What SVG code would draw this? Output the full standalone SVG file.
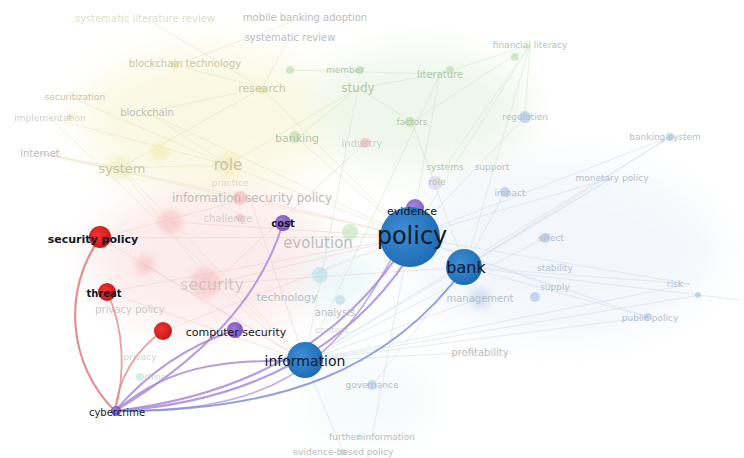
<svg xmlns="http://www.w3.org/2000/svg" width="744" height="458" viewBox="0 0 744 458">
<style>
.f{font-family:"DejaVu Sans","Open Sans",sans-serif;text-anchor:middle;dominant-baseline:central}
.faint{fill:#bcbcbc}
.fy{fill:#c6c6a6}
.fg{fill:#b2c6ad}
.fb{fill:#b3bfcc}
.lab{fill:#101828}
.bg{fill:none;stroke-width:0.8}
.e{fill:none;stroke-linecap:round}
</style>
<defs>
<filter id="blur" x="-50%" y="-50%" width="200%" height="200%"><feGaussianBlur stdDeviation="18"/></filter>
<filter id="sb" x="-50%" y="-50%" width="200%" height="200%"><feGaussianBlur stdDeviation="3"/></filter>
<radialGradient id="gBlue" cx="40%" cy="40%" r="60%"><stop offset="0" stop-color="#3d8fd6"/><stop offset="1" stop-color="#1f6db5"/></radialGradient>
<radialGradient id="gRed" cx="40%" cy="40%" r="60%"><stop offset="0" stop-color="#f03535"/><stop offset="1" stop-color="#c81818"/></radialGradient>
<radialGradient id="gPur" cx="40%" cy="40%" r="60%"><stop offset="0" stop-color="#a07ad8"/><stop offset="1" stop-color="#7d52c0"/></radialGradient>
</defs>
<rect width="744" height="458" fill="#ffffff"/>

<g id="washes" filter="url(#blur)" opacity="0.5">
<ellipse cx="210" cy="120" rx="130" ry="70" fill="#f7f3c8"/>
<ellipse cx="420" cy="110" rx="110" ry="60" fill="#dff0d8"/>
<ellipse cx="210" cy="260" rx="120" ry="70" fill="#fadada"/>
<ellipse cx="560" cy="250" rx="160" ry="90" fill="#e9f0f8"/>
<ellipse cx="340" cy="280" rx="40" ry="30" fill="#d8f0f2"/>
<ellipse cx="370" cy="400" rx="60" ry="40" fill="#eaf5f5"/>
</g>

<g id="connectors">
<g class="bg" stroke="#e6e0b8" opacity="0.6">
<path d="M120 168 L262 88 M120 168 L228 165 M120 168 L40 153 M147 112 L262 88 M147 112 L228 165 M50 118 L228 165 M175 65 L305 17 M175 65 L262 88 M290 37 L262 88 M228 165 L410 237 M228 165 L358 88 M122 168 L305 361 M147 112 L410 237 M262 88 L410 237 M40 153 L250 198 M70 97 L228 165 M120 168 L212 284 M145 18 L262 88 M40 153 L410 237 M50 118 L305 361"/>
</g>
<g class="bg" stroke="#cfe6c8" opacity="0.7">
<path d="M358 88 L440 74 M358 88 L412 122 M440 74 L530 45 M530 45 L412 122 M530 45 L525 117 M530 45 L410 237 M440 74 L410 237 M297 138 L410 237 M297 138 L358 88 M412 122 L465 267 M358 88 L305 361 M530 45 L445 167 M290 70 L440 74 M530 45 L465 267 M440 74 L305 361"/>
</g>
<g class="bg" stroke="#f3cccc" opacity="0.7">
<path d="M212 284 L410 237 M212 284 L305 361 M170 222 L410 237 M145 265 L305 361 M100 238 L410 237 M107 292 L305 361 M163 331 L410 237 M250 198 L410 237 M250 198 L305 361 M212 284 L465 267 M365 143 L212 284 M100 238 L250 198 M100 238 L305 361 M107 292 L410 237"/>
</g>
<g class="bg" stroke="#d4e0ee" opacity="0.8">
<path d="M410 237 L670 137 M410 237 L612 178 M410 237 L690 284 M410 237 L648 317 M465 267 L690 284 M465 267 L648 317 M465 267 L612 178 M305 361 L648 317 M305 361 L480 352 M305 361 L690 284 M525 117 L410 237 M505 192 L465 267 M545 238 L305 361 M555 287 L410 237 M480 298 L305 361 M372 437 L410 237 M343 452 L305 361 M372 385 L465 267 M670 137 L465 267 M700 295 L305 361 M612 178 L305 361 M740 300 L465 267 M670 137 L305 361"/>
</g>
<!-- strong links -->
<path class="e" d="M100 238 C62 290 68 365 115 411" stroke="#e07a7a" stroke-width="2.2" opacity="0.85"/>
<path class="e" d="M107 292 C125 330 125 375 115 411" stroke="#e08a8a" stroke-width="1.8" opacity="0.8"/>
<path class="e" d="M163 331 C135 350 118 380 115 411" stroke="#e08a8a" stroke-width="1.8" opacity="0.8"/>
<path class="e" d="M115 411 C200 360 260 300 283 223" stroke="#a98bd8" stroke-width="2" opacity="0.85"/>
<path class="e" d="M115 411 C150 370 190 345 235 330" stroke="#a98bd8" stroke-width="2" opacity="0.85"/>
<path class="e" d="M115 411 C160 375 200 358 305 361" stroke="#a98bd8" stroke-width="2" opacity="0.85"/>
<path class="e" d="M115 411 C250 395 340 340 398 255" stroke="#a98bd8" stroke-width="2.2" opacity="0.85"/>
<path class="e" d="M115 411 C255 402 350 345 408 258" stroke="#a98bd8" stroke-width="2.2" opacity="0.85"/>
<path class="e" d="M115 411 C250 410 340 390 415 207" stroke="#a98bd8" stroke-width="1.6" opacity="0.7"/>
<path class="e" d="M115 411 C280 412 390 370 465 267" stroke="#7f8fdc" stroke-width="2" opacity="0.85"/>
</g>

<g id="faint-nodes" opacity="0.5">
<circle cx="175" cy="65" r="4" fill="#e5e08a"/>
<circle cx="262" cy="90" r="4" fill="#e5e08a"/>
<circle cx="160" cy="152" r="9" fill="#eeeaa0" filter="url(#sb)"/>
<circle cx="120" cy="168" r="12" fill="#efeab0" filter="url(#sb)"/>
<circle cx="228" cy="165" r="12" fill="#efeab0" filter="url(#sb)"/>
<circle cx="70" cy="117" r="3" fill="#e5e08a"/>
<circle cx="290" cy="70" r="4" fill="#a8d89a"/>
<circle cx="360" cy="70" r="4" fill="#a8d89a"/>
<circle cx="450" cy="70" r="4" fill="#a8d89a"/>
<circle cx="515" cy="57" r="4" fill="#a8d89a"/>
<circle cx="410" cy="122" r="5" fill="#a8d89a"/>
<circle cx="295" cy="137" r="6" fill="#a8d89a"/>
<circle cx="350" cy="232" r="8" fill="#b6e0a8"/>
<circle cx="365" cy="143" r="5" fill="#f0a0a0"/>
<circle cx="525" cy="117" r="6" fill="#8fb6e0"/>
<circle cx="670" cy="137" r="4" fill="#8fb6e0"/>
<circle cx="505" cy="192" r="5" fill="#8fb6e0"/>
<circle cx="545" cy="238" r="5" fill="#8fb6e0"/>
<circle cx="535" cy="297" r="5" fill="#8fb6e0"/>
<circle cx="648" cy="317" r="4" fill="#8fb6e0"/>
<circle cx="698" cy="295" r="3" fill="#8fb6e0"/>
<circle cx="480" cy="298" r="11" fill="#bcd0e8" filter="url(#sb)"/>
<circle cx="170" cy="222" r="12" fill="#f4b8b8" filter="url(#sb)"/>
<circle cx="145" cy="265" r="10" fill="#f4b8b8" filter="url(#sb)"/>
<circle cx="205" cy="283" r="15" fill="#f4b8b8" filter="url(#sb)"/>
<circle cx="240" cy="198" r="7" fill="#f4a8a8"/>
<circle cx="240" cy="218" r="4" fill="#f4a8a8"/>
<circle cx="435" cy="183" r="7" fill="#d8c0f0"/>
<circle cx="320" cy="275" r="8" fill="#a8e0e8"/>
<circle cx="340" cy="300" r="5" fill="#a8d0e8"/>
<circle cx="372" cy="385" r="5" fill="#9ac0d8"/>
<circle cx="360" cy="437" r="3" fill="#9ad0c8"/>
<circle cx="343" cy="452" r="3" fill="#9ad0a8"/>
<circle cx="140" cy="377" r="4" fill="#a8e0d0"/>
</g>

<g id="faint-labels" class="f">
<text x="145" y="18" font-size="10" class="fy" opacity="0.6">systematic literature review</text>
<text x="305" y="17" font-size="10" class="faint">mobile banking adoption</text>
<text x="290" y="37" font-size="10" class="faint">systematic review</text>
<text x="185" y="63" font-size="10" class="fy">blockchain technology</text>
<text x="530" y="45" font-size="9" class="fg">financial literacy</text>
<text x="345" y="70" font-size="9" class="fg">member</text>
<text x="262" y="88" font-size="11" class="fy">research</text>
<text x="440" y="74" font-size="10" class="fg">literature</text>
<text x="358" y="88" font-size="12" class="fg">study</text>
<text x="75" y="97" font-size="9" class="fy">securitization</text>
<text x="147" y="112" font-size="10" class="faint">blockchain</text>
<text x="50" y="118" font-size="9" class="faint" opacity="0.7">implementation</text>
<text x="412" y="122" font-size="9" class="fg">factors</text>
<text x="525" y="117" font-size="9" class="fb">regulation</text>
<text x="297" y="138" font-size="11" class="fg">banking</text>
<text x="362" y="143" font-size="10" class="faint" opacity="0.7">industry</text>
<text x="665" y="137" font-size="9" class="fb">banking system</text>
<text x="40" y="153" font-size="10" class="faint">internet</text>
<text x="122" y="168" font-size="13" class="fy">system</text>
<text x="228" y="165" font-size="15" class="fy">role</text>
<text x="230" y="183" font-size="9" class="fy" opacity="0.6">practice</text>
<text x="445" y="167" font-size="9" class="fg">systems</text>
<text x="492" y="167" font-size="9" class="fb">support</text>
<text x="437" y="182" font-size="9" class="fg">role</text>
<text x="612" y="178" font-size="9" class="fb">monetary policy</text>
<text x="510" y="193" font-size="9" class="fb">impact</text>
<text x="252" y="198" font-size="12" class="faint">information security policy</text>
<text x="228" y="218" font-size="10" class="faint" opacity="0.7">challenge</text>
<text x="318" y="243" font-size="15" class="faint">evolution</text>
<text x="551" y="238" font-size="9" class="fb">effect</text>
<text x="212" y="284" font-size="16" class="faint" opacity="0.75">security</text>
<text x="287" y="297" font-size="11" class="fb">technology</text>
<text x="130" y="309" font-size="10" class="faint" opacity="0.8">privacy policy</text>
<text x="555" y="268" font-size="9" class="fb">stability</text>
<text x="555" y="287" font-size="9" class="fb">supply</text>
<text x="675" y="284" font-size="9" class="fb">risk</text>
<text x="480" y="298" font-size="10" class="fb">management</text>
<text x="335" y="312" font-size="10" class="faint">analysis</text>
<text x="332" y="330" font-size="9" class="faint" opacity="0.6">context</text>
<text x="140" y="357" font-size="9" class="faint" opacity="0.7">privacy</text>
<text x="155" y="377" font-size="8" class="fb" opacity="0.7">china</text>
<text x="372" y="385" font-size="9" class="fb">governance</text>
<text x="650" y="318" font-size="9" class="fb">public policy</text>
<text x="480" y="352" font-size="10" class="faint">profitability</text>
<text x="372" y="437" font-size="9" class="faint">further information</text>
<text x="343" y="452" font-size="9" class="faint">evidence-based policy</text>
</g>

<g id="node-evidence">
<circle cx="415" cy="208" r="9" fill="url(#gPur)" opacity="0.9"/>
</g>
<g id="node-policy">
<circle cx="410" cy="237" r="30" fill="url(#gBlue)"/>
<text class="f lab" x="412" y="236" font-size="24">policy</text>
</g>
<g id="label-evidence"><text class="f lab" x="412" y="211" font-size="11">evidence</text></g>
<g id="node-bank">
<circle cx="464" cy="267" r="18" fill="url(#gBlue)"/>
<text class="f lab" x="466" y="267" font-size="16">bank</text>
</g>
<g id="node-information">
<circle cx="305" cy="360" r="18" fill="url(#gBlue)"/>
<text class="f lab" x="305" y="361" font-size="14">information</text>
</g>
<g id="node-security-policy">
<circle cx="100" cy="237" r="11" fill="url(#gRed)"/>
<text class="f lab" x="93" y="239" font-size="11" font-weight="bold">security policy</text>
</g>
<g id="node-threat">
<circle cx="107" cy="292" r="9" fill="url(#gRed)"/>
<text class="f lab" x="104" y="293" font-size="10" font-weight="bold">threat</text>
</g>
<g id="node-computer-security">
<circle cx="163" cy="331" r="9" fill="url(#gRed)"/>
<circle cx="235" cy="330" r="8" fill="url(#gPur)"/>
<text class="f lab" x="236" y="332" font-size="11">computer security</text>
</g>
<g id="node-cost">
<circle cx="283" cy="223" r="8" fill="url(#gPur)"/>
<text class="f lab" x="283" y="223" font-size="10" font-weight="bold">cost</text>
</g>
<g id="node-cybercrime">
<circle cx="116" cy="411" r="5" fill="url(#gPur)"/>
<text class="f lab" x="117" y="412" font-size="10">cybercrime</text>
</g>
</svg>
